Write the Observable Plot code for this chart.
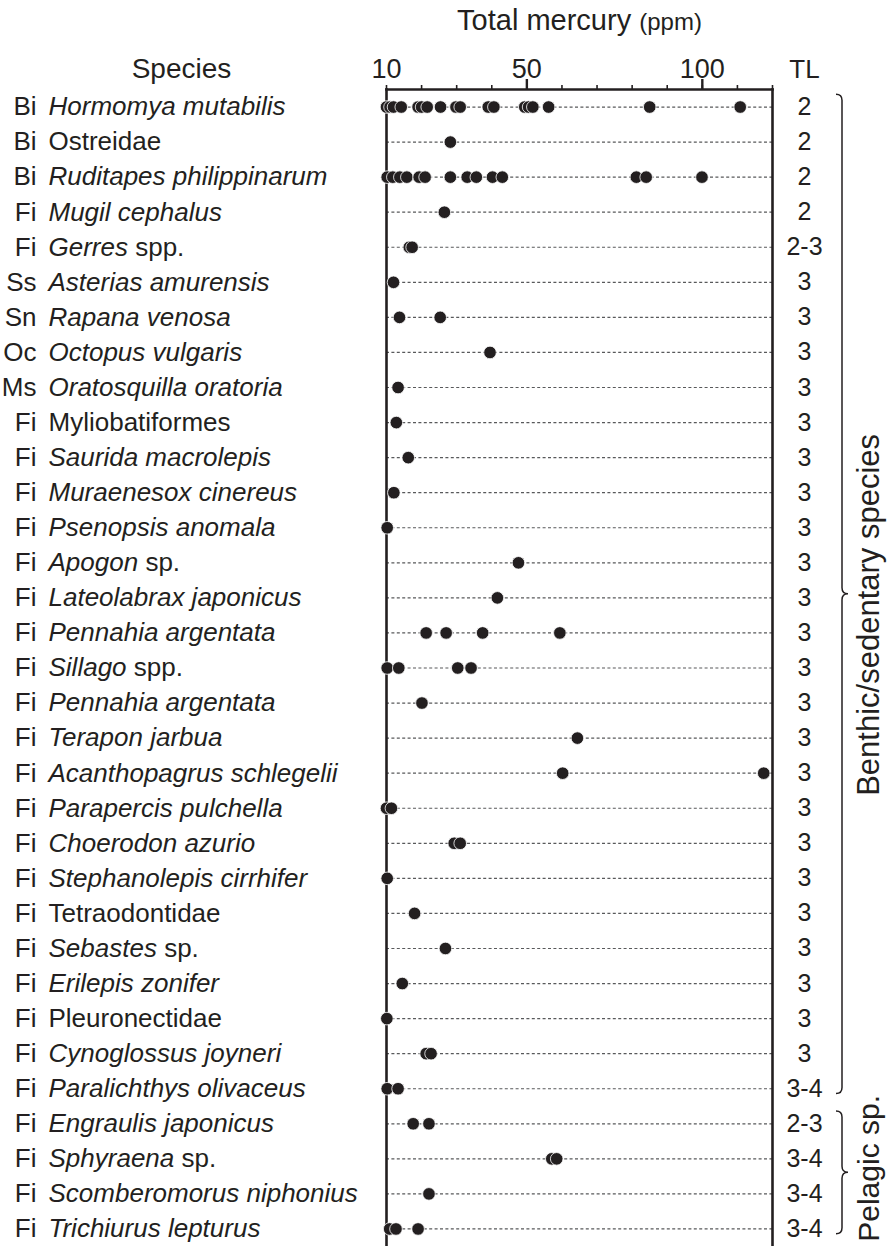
<!DOCTYPE html>
<html><head><meta charset="utf-8">
<script src="https://cdn.jsdelivr.net/npm/d3@7"></script>
<script src="https://cdn.jsdelivr.net/npm/@observablehq/plot@0.6"></script>
<style>
html,body{margin:0;padding:0;background:#fff;overflow:hidden;}
#chart svg{display:block;}
</style></head><body><div id="chart"></div>
<script>
// ---- data ----
const taxa = ["Bi","Bi","Bi","Fi","Fi","Ss","Sn","Oc","Ms","Fi","Fi","Fi","Fi","Fi","Fi","Fi","Fi","Fi","Fi","Fi","Fi","Fi","Fi","Fi","Fi","Fi","Fi","Fi","Fi","Fi","Fi","Fi","Fi"];
const species = ["Hormomya mutabilis","Ostreidae","Ruditapes philippinarum","Mugil cephalus","Gerres spp.","Asterias amurensis","Rapana venosa","Octopus vulgaris","Oratosquilla oratoria","Myliobatiformes","Saurida macrolepis","Muraenesox cinereus","Psenopsis anomala","Apogon sp.","Lateolabrax japonicus","Pennahia argentata","Sillago spp.","Pennahia argentata","Terapon jarbua","Acanthopagrus schlegelii","Parapercis pulchella","Choerodon azurio","Stephanolepis cirrhifer","Tetraodontidae","Sebastes sp.","Erilepis zonifer","Pleuronectidae","Cynoglossus joyneri","Paralichthys olivaceus","Engraulis japonicus","Sphyraena sp.","Scomberomorus niphonius","Trichiurus lepturus"];
const trophicLevel = ["2","2","2","2","2-3","3","3","3","3","3","3","3","3","3","3","3","3","3","3","3","3","3","3","3","3","3","3","3","3-4","2-3","3-4","3-4","3-4"];
const mercury = [
  [10.0,11.0,12.0,14.2,19.0,20.0,21.6,25.4,29.8,31.0,39.0,40.6,49.4,50.5,51.7,56.2,85.0,110.8],
  [28.2],
  [10.2,11.8,13.8,15.8,19.3,21.0,28.2,33.0,35.6,40.2,43.0,81.2,84.0,99.9],
  [26.5],
  [16.5,17.3],
  [12.0],
  [13.7,25.3],
  [39.5],
  [13.3],
  [12.8],
  [16.2],
  [12.1],
  [10.2],
  [47.6],
  [41.6],
  [21.3,27.0,37.4,59.4],
  [10.2,13.5,30.3,34.1],
  [20.1],
  [64.4],
  [60.2,117.5],
  [10.0,11.4],
  [29.3,31.0],
  [10.2],
  [18.0],
  [26.8],
  [14.5],
  [10.1],
  [21.3,22.7],
  [10.2,13.3],
  [17.6,22.1],
  [57.1,58.5],
  [22.1],
  [10.9,12.7,19.0]
];
const xTicks = [10,20,30,40,50,60,70,80,90,100,110,120];
const labeledTicks = [10,50,100];
const majorTicks = [50,100];
const groupLabels = ["Benthic/sedentary species","Pelagic sp."];
const groupFirst = [0,29];
const groupLast = [28,32];

// ---- build ----
const rows = species.map((name,i)=>({i, name, taxon: taxa[i], tl: trophicLevel[i]}));
const points = mercury.flatMap((vals,i)=>vals.map(v=>({i, v})));
const groups = groupLabels.map((label,k)=>({label, first: groupFirst[k], last: groupLast[k]}));

const ink = "#231f20";
const font = "'Liberation Sans', Arial, Helvetica, sans-serif";
const TITLE = "Total mercury (ppm)";

const plot = Plot.plot({
  width: 893, height: 1246,
  marginLeft: 386, marginRight: 121, marginTop: 89, marginBottom: 0,
  style: {fontFamily: font, fontSize: "26px", color: ink, background: "#fff", overflow: "visible"},
  x: {domain: [10,120]},
  y: {domain: [-0.5, 32.5], reverse: true, axis: null},
  marks: [
    Plot.ruleY(rows, {y: "i", x1: 10, x2: 120, stroke: "#58595b", strokeWidth: 1.2, strokeDasharray: "3,2.4"}),
    Plot.frame({anchor: "left", stroke: ink, strokeWidth: 2.6}),
    Plot.frame({anchor: "right", stroke: ink, strokeWidth: 2.6}),
    Plot.frame({anchor: "top", stroke: ink, strokeWidth: 2.6}),
    Plot.axisX(xTicks, {anchor: "top", tickSize: 5, strokeWidth: 1.6, tickPadding: 7, fontSize: 27, fill: ink, tickFormat: d => labeledTicks.includes(d) ? String(d) : "", label: null}),
    Plot.axisX(majorTicks, {anchor: "top", tickSize: 11, strokeWidth: 2.4, tickFormat: () => "", label: null}),
    Plot.dot(points, {x: "v", y: "i", r: 6.3, fill: ink, stroke: "#fff", strokeWidth: 0.8}),
    Plot.text(rows, {y: "i", text: "taxon", frameAnchor: "left", dx: -350, textAnchor: "end", fontSize: 26, fill: ink}),
    Plot.text(rows, {y: "i", text: "name", frameAnchor: "left", dx: -338, textAnchor: "start", fontSize: 26, fill: ink}),
    Plot.text(rows, {y: "i", text: "tl", frameAnchor: "right", dx: 32, textAnchor: "middle", fontSize: 25, fill: ink}),
    Plot.text(["Species"], {frameAnchor: "top-left", dx: -205, dy: -12, textAnchor: "middle", lineAnchor: "bottom", fontSize: 28, fill: ink}),
    Plot.text(["TL"], {frameAnchor: "top-right", dx: 32, dy: -12, textAnchor: "middle", lineAnchor: "bottom", fontSize: 26, fill: ink}),
    Plot.text([TITLE], {frameAnchor: "top", dy: -69, textAnchor: "middle", lineAnchor: "middle", fontSize: 29, fill: ink}),
    Plot.text(groups.slice(0,1), {y: d => (d.first + d.last) / 2, text: "label", frameAnchor: "right", dx: 97, dy: 17, textAnchor: "middle", rotate: -90, fontSize: 31, fill: ink}),
    Plot.text(groups.slice(1), {y: d => (d.first + d.last) / 2, text: "label", frameAnchor: "right", dx: 97, dy: -8, textAnchor: "middle", rotate: -90, fontSize: 30, fill: ink})
  ]
});

const NS = "http://www.w3.org/2000/svg";
const nameSet = new Set(species);
plot.querySelectorAll("text").forEach(t => {
  const s = t.textContent;
  const add = (str, attrs) => {
    const ts = document.createElementNS(NS, "tspan");
    ts.textContent = str;
    for (const k in attrs) ts.setAttribute(k, attrs[k]);
    t.appendChild(ts);
  };
  if (nameSet.has(s)) {
    t.textContent = "";
    const m = s.match(/^(.*?)( spp?\.)$/);
    if (m) { add(m[1], {"font-style": "italic"}); add(m[2], {}); }
    else if (/(idae|formes)$/.test(s)) add(s, {});
    else add(s, {"font-style": "italic"});
  } else if (s === TITLE) {
    t.textContent = "";
    add("Total mercury ", {});
    add("(ppm)", {"font-size": "24"});
  }
});

// braces, positioned via the y scale
const ys = plot.scale("y");
const xr = 893 - 121 + 70;
const svg = d3.select(plot);
groups.forEach(g => {
  const y0 = ys.apply(g.first - 0.35), y1 = ys.apply(g.last + 0.15), ym = (y0 + y1) / 2;
  const h = 6;
  const p = d3.path();
  p.moveTo(xr - h, y0);
  p.quadraticCurveTo(xr, y0, xr, y0 + h);
  p.lineTo(xr, ym - h);
  p.quadraticCurveTo(xr, ym, xr + h, ym);
  p.quadraticCurveTo(xr, ym, xr, ym + h);
  p.lineTo(xr, y1 - h);
  p.quadraticCurveTo(xr, y1, xr - h, y1);
  svg.append("path").attr("d", p.toString()).attr("fill", "none").attr("stroke", ink).attr("stroke-width", 1.5);
});

document.getElementById("chart").appendChild(plot);
</script>
</body></html>
